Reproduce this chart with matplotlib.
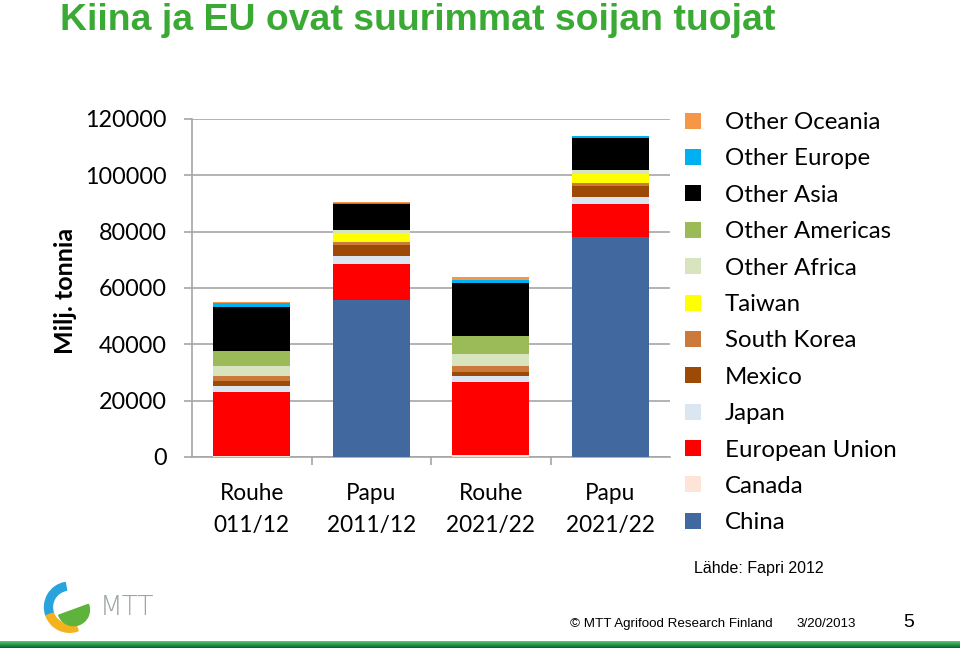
import matplotlib
matplotlib.use("Agg")
import matplotlib.pyplot as plt
from matplotlib.patches import Patch, Wedge
import numpy as np

# categories on the x axis
categories = ["Rouhe\n011/12", "Papu\n2011/12", "Rouhe\n2021/22", "Papu\n2021/22"]

# stacked series, bottom to top
china = [0, 55700, 0, 78000]
canada = [500, 0, 700, 0]
eu = [22600, 12800, 25800, 11800]
japan = [2100, 2900, 2300, 2600]
mexico = [1900, 3900, 1500, 3800]
south_korea = [1700, 900, 2000, 1000]
taiwan = [0, 3200, 0, 3300]
other_africa = [3500, 1200, 4200, 1400]
other_americas = [5300, 0, 6500, 0]
other_asia = [15700, 9200, 18700, 11200]
other_europe = [1200, 500, 1100, 700]
other_oceania = [600, 400, 1200, 0]

series = [
    ("China", china, "#4169A0"),
    ("Canada", canada, "#FCE4D6"),
    ("European Union", eu, "#FF0000"),
    ("Japan", japan, "#DCE6F2"),
    ("Mexico", mexico, "#9C4A06"),
    ("South Korea", south_korea, "#CC7A3C"),
    ("Taiwan", taiwan, "#FFFF00"),
    ("Other Africa", other_africa, "#D7E4BD"),
    ("Other Americas", other_americas, "#9BBB59"),
    ("Other Asia", other_asia, "#000000"),
    ("Other Europe", other_europe, "#00B0F0"),
    ("Other Oceania", other_oceania, "#F79646"),
]

yticks = [0, 20000, 40000, 60000, 80000, 100000, 120000]

body_font = "Lato"

fig = plt.figure(figsize=(9.6, 6.48), dpi=100)
ax = fig.add_axes([0.2, 0.2948, 0.498, 0.5216])

x = np.arange(len(categories))
bottom = np.zeros(len(categories))
for name, vals, col in series:
    ax.bar(x, vals, width=0.645, bottom=bottom, color=col, label=name, zorder=3)
    bottom += np.array(vals)

ax.set_xlim(-0.5, len(categories) - 0.5)
ax.set_ylim(0, 120000)
ax.set_yticks(yticks)
ax.set_yticklabels([str(v) for v in yticks], fontsize=16.8, family=body_font)
ax.yaxis.grid(True, color="#A6A6A6", linewidth=1.2, zorder=0)
ax.tick_params(axis="y", length=6, color="#A6A6A6", width=1.2, pad=12)

# category labels, ticks between categories
ax.set_xticks(x)
ax.set_xticklabels(categories, fontsize=16.3, family=body_font, linespacing=1.6)
ax.tick_params(axis="x", which="major", length=0, pad=19)
ax.set_xticks(np.arange(0.5, len(categories) - 0.5, 1), minor=True)
ax.tick_params(axis="x", which="minor", length=6, color="#A6A6A6", width=1.2)

for side in ["top", "right"]:
    ax.spines[side].set_visible(False)
for side in ["left", "bottom"]:
    ax.spines[side].set_color("#A6A6A6")
    ax.spines[side].set_linewidth(1.2)

fig.text(0.068, 0.551, "Milj. tonnia", rotation=90, ha="center", va="center",
         fontsize=18, fontweight="bold", family=body_font)

# legend, top entry first
handles = [Patch(facecolor=col, edgecolor="none", label=name) for name, vals, col in series[::-1]]
fig.legend(handles=handles, loc="upper left", bbox_to_anchor=(0.714, 0.827), frameon=False,
           prop={"family": body_font, "size": 17.3}, handlelength=0.65, handleheight=0.65,
           handletextpad=1.0, labelspacing=0.64, borderaxespad=0, borderpad=0)

# title
fig.text(0.062, 0.954, "Kiina ja EU ovat suurimmat soijan tuojat", ha="left", va="baseline",
         fontsize=26.9, fontweight="bold", color="#3AAA35", family="Liberation Sans")

# footer
fig.text(0.723, 0.123, "Lähde: Fapri 2012", ha="left", va="center", fontsize=11.5,
         family="Liberation Sans")
fig.text(0.594, 0.037, "© MTT Agrifood Research Finland", ha="left", va="center",
         fontsize=9.6, family="Liberation Sans")
fig.text(0.830, 0.037, "3/20/2013", ha="left", va="center", fontsize=9.6, family="Liberation Sans")
fig.text(0.941, 0.040, "5", ha="left", va="center", fontsize=14, family="Liberation Sans")

# green strip at the bottom
strip = fig.add_axes([0, 0, 1, 0.011])
strip.imshow(np.linspace(0, 1, 10).reshape(-1, 1), aspect="auto", cmap="Greens",
             vmin=-1.2, vmax=1.3, extent=[0, 1, 0, 1])
strip.axis("off")

# simple MTT logo
logo = fig.add_axes([0.045, 0.022, 0.055, 0.082])
logo.set_xlim(-1, 1)
logo.set_ylim(-1, 1)
logo.set_aspect("equal")
logo.axis("off")
logo.add_patch(Wedge((0, 0), 0.95, 100, 200, width=0.3, color="#29A3DD"))
logo.add_patch(Wedge((0, 0), 0.95, 200, 290, width=0.3, color="#F5B21C"))
logo.add_patch(Wedge((0.15, -0.1), 0.6, 200, 380, width=0.6, color="#5DB33B"))
fig.text(0.104, 0.063, "MTT", ha="left", va="center", fontsize=19, color="#9AA5A8",
         family="DejaVu Sans", fontweight="light")

fig.savefig("out.png", dpi=100)
